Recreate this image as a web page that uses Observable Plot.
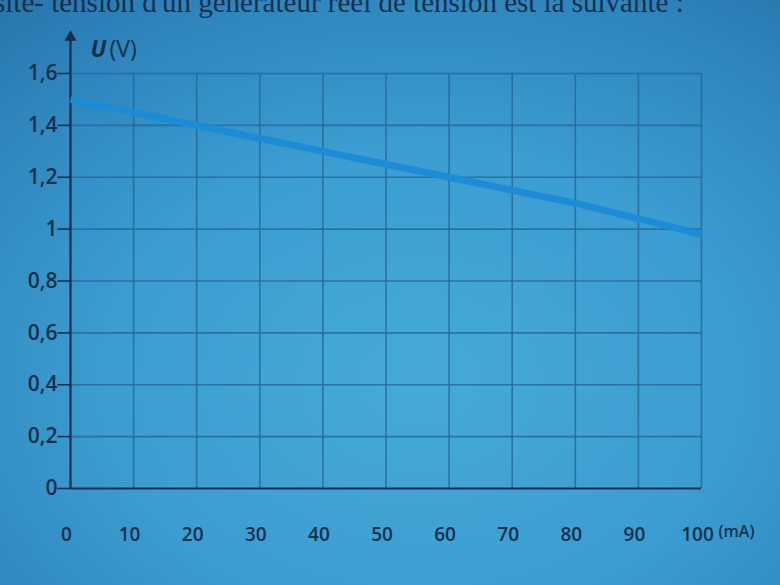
<!DOCTYPE html>
<html>
<head>
<meta charset="utf-8">
<script src="https://cdn.jsdelivr.net/npm/d3@7"></script>
<script src="https://cdn.jsdelivr.net/npm/@observablehq/plot@0.6"></script>
<style>
  html, body { margin: 0; padding: 0; }
  body {
    width: 780px; height: 585px; overflow: hidden; position: relative;
    background: radial-gradient(ellipse 700px 520px at 420px 380px, #45aad9 0%, #3b9dd0 45%, #2f86bd 75%, #2670a8 100%);
    font-family: "Open Sans", sans-serif;
  }
  #top {
    position: absolute; left: -6px; top: -14px; white-space: nowrap;
    font-family: "Liberation Serif", serif; font-size: 29px; color: #10233a; opacity: 0.85;
  }
  #chart { position: absolute; left: 0; top: 0; }
</style>
</head>
<body>
<div id="top">site- tension d'un générateur réel de tension est la suivante :</div>
<div id="chart"></div>
<script>
// Data
const currents = [0, 20, 40, 60, 80, 100];          // I (mA)
const voltages = [1.5, 1.4, 1.3, 1.2, 1.1, 0.98];   // U (V)
const xTicks = [0, 10, 20, 30, 40, 50, 60, 70, 80, 90, 100];
const xGrid = [10, 20, 30, 40, 50, 60, 70, 80, 90, 100];
const yTicks = [0, 0.2, 0.4, 0.6, 0.8, 1, 1.2, 1.4, 1.6];
const yGrid = [0.2, 0.4, 0.6, 0.8, 1, 1.2, 1.4, 1.6];
const yAxisTop = 1.74;
const tickLen = 2; // tick length in mA units

const data = currents.map((I, i) => ({I, U: voltages[i]}));
const fmt = d => String(d).replace(".", ",");
const ink = "#15304d";
const gridColor = "#28699a";

const chart = Plot.plot({
  width: 780,
  height: 585,
  marginLeft: 70,
  marginRight: 79,
  marginTop: 73,
  marginBottom: 97,
  style: {background: "transparent", fontFamily: "'Open Sans', sans-serif", overflow: "visible"},
  x: {type: "linear", domain: [0, 100], axis: null},
  y: {type: "linear", domain: [0, 1.6], axis: null},
  marks: [
    Plot.ruleX(xGrid, {x: d => d, y1: 0, y2: 1.6, stroke: gridColor, strokeWidth: 1.6, strokeOpacity: 0.85}),
    Plot.ruleY(yGrid, {y: d => d, x1: 0, x2: 100, stroke: gridColor, strokeWidth: 1.6, strokeOpacity: 0.85}),
    Plot.ruleY([0], {y: d => d, x1: 0, x2: 100, stroke: ink, strokeWidth: 2.2}),
    Plot.ruleX([0], {x: d => d, y1: 0, y2: yAxisTop, stroke: ink, strokeWidth: 2.2, clip: false}),
    Plot.dot([yAxisTop], {x: 0, y: d => d, symbol: "triangle", r: 4.5, fill: ink, stroke: "none", clip: false}),
    Plot.ruleY(yTicks, {y: d => d, x1: -tickLen, x2: 0, stroke: ink, strokeWidth: 1.6}),
    Plot.text(yTicks, {x: 0, y: d => d, text: fmt, dx: -13, textAnchor: "end", fill: ink, fontSize: 21, fontWeight: 600}),
    Plot.text(xTicks, {x: d => d, y: 0, text: d => String(d), dy: 46, dx: -4, fill: ink, fontSize: 19, fontWeight: 600}),
    Plot.line(data, {x: "I", y: "U", stroke: "#1d8cd6", strokeWidth: 7, strokeLinecap: "butt"}),
    Plot.text(["U"], {x: 0, y: yAxisTop, dx: 20, dy: 12, textAnchor: "start", fill: ink, fontSize: 23, fontWeight: 700, fontStyle: "italic"}),
    Plot.text(["(V)"], {x: 0, y: yAxisTop, dx: 39, dy: 12, textAnchor: "start", fill: ink, fontSize: 23, fontWeight: 500}),
    Plot.text(["(mA)"], {x: 100, y: 0, dx: 17, dy: 43, textAnchor: "start", fill: ink, fontSize: 16, fontWeight: 600})
  ]
});
document.getElementById("chart").append(chart);
</script>
</body>
</html>
